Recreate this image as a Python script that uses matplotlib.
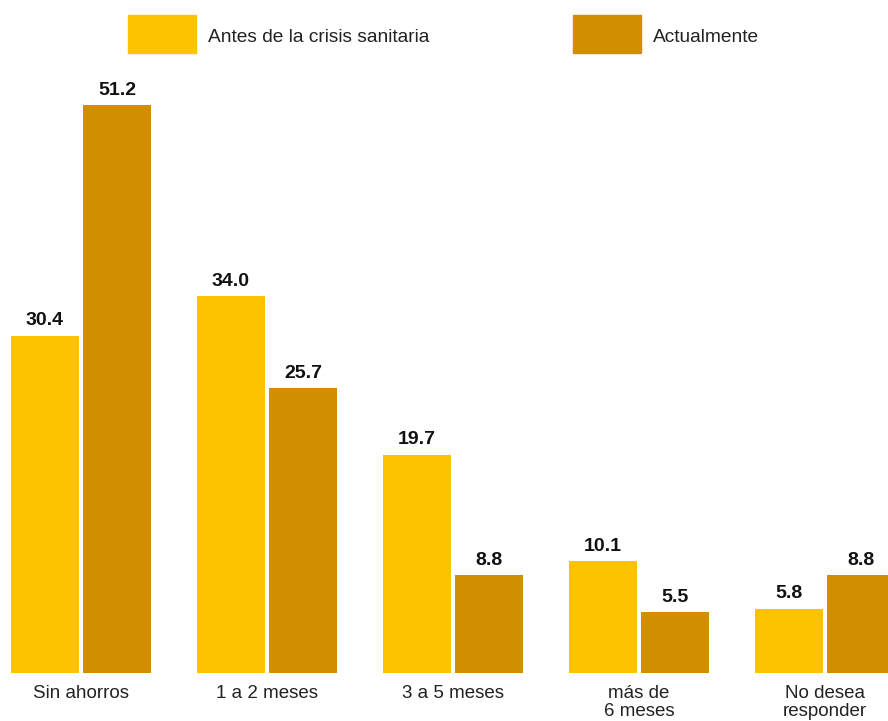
import matplotlib
matplotlib.use("Agg")
import matplotlib.pyplot as plt
from matplotlib.patches import Rectangle
import numpy as np

plt.rcParams['font.family'] = ['Liberation Sans', 'DejaVu Sans']

# Data ________________________________________________________________
categories = ['Sin ahorros', '1 a 2 meses', '3 a 5 meses', 'más de\n6 meses', 'No desea\nresponder']
antes = [30.4, 34.0, 19.7, 10.1, 5.8]
actual = [51.2, 25.7, 8.8, 5.5, 8.8]
series_names = ['Antes de la crisis sanitaria', 'Actualmente']

COL_ANTES = '#FEC300'
COL_ACTUAL = '#D18F00'

W, H, DPI = 888, 721, 100
fig = plt.figure(figsize=(W / DPI, H / DPI), dpi=DPI)

# axes: bottom of bars at pixel row 673, group spacing 186 px
ax = fig.add_axes([0, (H - 673) / H, 1, 673 / H])
x = np.arange(len(categories))
offset = 36 / 186
width = 68 / 186

b1 = ax.bar(x - offset, antes, width, color=COL_ANTES)
b2 = ax.bar(x + offset, actual, width, color=COL_ACTUAL)

for bars, vals in ((b1, antes), (b2, actual)):
    for bar, v in zip(bars, vals):
        ax.annotate(f'{v:.1f}', (bar.get_x() + bar.get_width() / 2, v),
                    xytext=(0, 7.5), textcoords='offset points',
                    ha='center', va='baseline', fontsize=14,
                    fontweight='bold', color='#111111')

ax.set_xlim(-81 / 186, (888 - 81) / 186)
ax.set_ylim(0, 673 / 11.09)
ax.set_xticks(x)
ax.set_xticklabels(categories, fontsize=13.5, color='#222222', linespacing=1.1)
ax.tick_params(axis='x', length=0, pad=8.5)
ax.set_yticks([])
for s in ax.spines.values():
    s.set_visible(False)

# legend drawn by hand at the top
for px, col, name in ((128, COL_ANTES, series_names[0]), (573, COL_ACTUAL, series_names[1])):
    fig.patches.append(Rectangle((px / W, 1 - 53 / H), 68 / W, 38 / H,
                                 transform=fig.transFigure, color=col))
    fig.text((px + 80) / W, 1 - 37 / H, name, fontsize=13.8, color='#222222',
             ha='left', va='center')

fig.savefig('out.png', dpi=DPI)
